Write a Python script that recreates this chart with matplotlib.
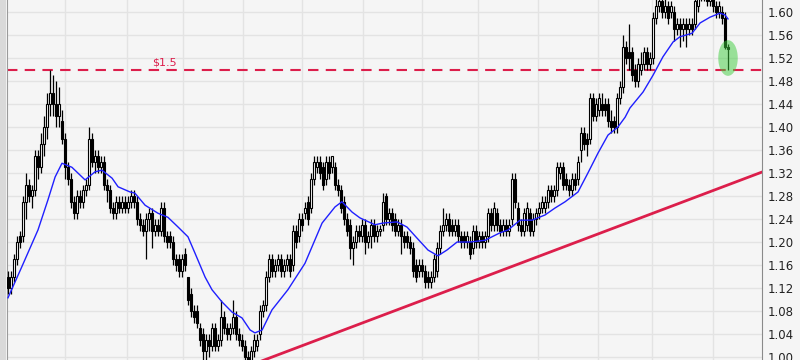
import numpy as np
import matplotlib
matplotlib.use('Agg')
import matplotlib.pyplot as plt
from matplotlib.patches import Ellipse, Rectangle

# 每日K线数据 (开/收/高/低)
opens = [
    1.14, 1.12, 1.14, 1.17, 1.21, 1.21, 1.27, 1.30, 1.28, 1.29,
    1.35, 1.33, 1.37, 1.40, 1.44, 1.46, 1.44, 1.42, 1.41, 1.38,
    1.33, 1.31, 1.27, 1.25, 1.28, 1.27, 1.29, 1.30, 1.38, 1.34,
    1.35, 1.33, 1.34, 1.30, 1.29, 1.26, 1.25, 1.27, 1.26, 1.27,
    1.26, 1.27, 1.28, 1.27, 1.24, 1.23, 1.22, 1.24, 1.25, 1.22,
    1.23, 1.22, 1.26, 1.21, 1.21, 1.20, 1.17, 1.17, 1.15, 1.18,
    1.14, 1.11, 1.08, 1.08, 1.05, 1.04, 1.01, 1.03, 1.02, 1.05,
    1.02, 1.03, 1.07, 1.05, 1.04, 1.05, 1.07, 1.04, 1.03, 1.02,
    1.00, 0.99, 1.01, 1.02, 1.04, 1.08, 1.09, 1.14, 1.17, 1.15,
    1.16, 1.17, 1.15, 1.16, 1.17, 1.16, 1.22, 1.21, 1.24, 1.25,
    1.27, 1.26, 1.31, 1.33, 1.34, 1.33, 1.31, 1.34, 1.33, 1.33,
    1.30, 1.29, 1.27, 1.24, 1.23, 1.19, 1.20, 1.22, 1.21, 1.23,
    1.20, 1.21, 1.23, 1.21, 1.22, 1.23, 1.28, 1.24, 1.25, 1.24,
    1.22, 1.23, 1.21, 1.21, 1.20, 1.19, 1.16, 1.15, 1.16, 1.15,
    1.14, 1.13, 1.14, 1.15, 1.19, 1.22, 1.23, 1.24, 1.23, 1.22,
    1.23, 1.21, 1.21, 1.20, 1.20, 1.19, 1.22, 1.20, 1.21, 1.20,
    1.21, 1.25, 1.23, 1.25, 1.23, 1.22, 1.23, 1.22, 1.24, 1.31,
    1.26, 1.23, 1.22, 1.23, 1.25, 1.22, 1.24, 1.25, 1.26, 1.26,
    1.27, 1.29, 1.28, 1.29, 1.32, 1.33, 1.31, 1.30, 1.29, 1.31,
    1.31, 1.36, 1.39, 1.38, 1.38, 1.45, 1.42, 1.43, 1.44, 1.44,
    1.44, 1.41, 1.41, 1.40, 1.45, 1.47, 1.54, 1.53, 1.53, 1.50,
    1.48, 1.50, 1.51, 1.53, 1.51, 1.52, 1.59, 1.61, 1.62, 1.60,
    1.61, 1.60, 1.60, 1.57, 1.58, 1.57, 1.58, 1.57, 1.58, 1.58,
    1.61, 1.63, 1.64, 1.63, 1.62, 1.63, 1.61, 1.60, 1.60, 1.59,
    1.54]
closes = [
    1.12, 1.14, 1.17, 1.20, 1.20, 1.27, 1.30, 1.28, 1.29, 1.35,
    1.33, 1.37, 1.40, 1.44, 1.46, 1.44, 1.42, 1.44, 1.38, 1.33,
    1.31, 1.27, 1.25, 1.28, 1.27, 1.29, 1.30, 1.38, 1.34, 1.35,
    1.33, 1.34, 1.30, 1.29, 1.26, 1.25, 1.27, 1.26, 1.27, 1.26,
    1.27, 1.28, 1.27, 1.24, 1.23, 1.22, 1.24, 1.25, 1.22, 1.23,
    1.22, 1.26, 1.21, 1.20, 1.20, 1.17, 1.16, 1.15, 1.17, 1.16,
    1.10, 1.08, 1.07, 1.06, 1.03, 1.01, 1.03, 1.02, 1.05, 1.02,
    1.03, 1.07, 1.05, 1.04, 1.05, 1.07, 1.04, 1.03, 1.02, 1.00,
    0.99, 1.01, 1.03, 1.03, 1.08, 1.09, 1.14, 1.17, 1.15, 1.16,
    1.17, 1.15, 1.16, 1.17, 1.15, 1.22, 1.20, 1.24, 1.23, 1.26,
    1.24, 1.31, 1.34, 1.34, 1.32, 1.30, 1.34, 1.32, 1.35, 1.30,
    1.29, 1.26, 1.24, 1.22, 1.19, 1.20, 1.22, 1.21, 1.23, 1.20,
    1.21, 1.23, 1.21, 1.22, 1.22, 1.27, 1.24, 1.25, 1.23, 1.22,
    1.23, 1.21, 1.20, 1.20, 1.19, 1.15, 1.14, 1.16, 1.15, 1.13,
    1.13, 1.14, 1.17, 1.19, 1.22, 1.23, 1.24, 1.22, 1.22, 1.23,
    1.21, 1.20, 1.20, 1.21, 1.18, 1.22, 1.20, 1.21, 1.20, 1.21,
    1.25, 1.23, 1.26, 1.23, 1.22, 1.23, 1.22, 1.23, 1.31, 1.27,
    1.23, 1.22, 1.25, 1.26, 1.22, 1.24, 1.25, 1.26, 1.27, 1.27,
    1.29, 1.28, 1.29, 1.33, 1.33, 1.30, 1.30, 1.29, 1.31, 1.30,
    1.34, 1.39, 1.37, 1.37, 1.45, 1.42, 1.44, 1.45, 1.43, 1.43,
    1.41, 1.40, 1.40, 1.45, 1.47, 1.54, 1.52, 1.52, 1.49, 1.48,
    1.51, 1.51, 1.53, 1.51, 1.52, 1.59, 1.61, 1.62, 1.60, 1.61,
    1.59, 1.61, 1.57, 1.58, 1.57, 1.58, 1.57, 1.58, 1.57, 1.62,
    1.63, 1.64, 1.63, 1.62, 1.63, 1.61, 1.60, 1.61, 1.59, 1.54,
    1.535]
highs = [
    1.15, 1.15, 1.18, 1.21, 1.22, 1.28, 1.32, 1.31, 1.30, 1.36,
    1.36, 1.39, 1.42, 1.46, 1.50, 1.49, 1.48, 1.47, 1.43, 1.39,
    1.34, 1.32, 1.28, 1.29, 1.29, 1.30, 1.31, 1.40, 1.39, 1.36,
    1.36, 1.35, 1.35, 1.31, 1.30, 1.27, 1.28, 1.28, 1.28, 1.28,
    1.28, 1.29, 1.29, 1.28, 1.25, 1.24, 1.25, 1.26, 1.26, 1.24,
    1.24, 1.27, 1.27, 1.22, 1.22, 1.21, 1.18, 1.18, 1.18, 1.19,
    1.14, 1.12, 1.09, 1.09, 1.06, 1.05, 1.04, 1.04, 1.06, 1.06,
    1.04, 1.10, 1.08, 1.06, 1.06, 1.10, 1.08, 1.05, 1.04, 1.03,
    1.01, 1.02, 1.04, 1.04, 1.09, 1.10, 1.15, 1.18, 1.18, 1.17,
    1.18, 1.18, 1.17, 1.18, 1.18, 1.23, 1.23, 1.25, 1.25, 1.27,
    1.28, 1.32, 1.35, 1.35, 1.35, 1.34, 1.35, 1.35, 1.35, 1.34,
    1.31, 1.30, 1.28, 1.25, 1.24, 1.21, 1.23, 1.23, 1.24, 1.24,
    1.22, 1.24, 1.24, 1.23, 1.23, 1.285, 1.285, 1.26, 1.26, 1.25,
    1.24, 1.24, 1.22, 1.22, 1.21, 1.20, 1.17, 1.17, 1.17, 1.16,
    1.15, 1.15, 1.18, 1.20, 1.23, 1.26, 1.25, 1.25, 1.24, 1.24,
    1.24, 1.22, 1.22, 1.22, 1.21, 1.23, 1.23, 1.22, 1.22, 1.22,
    1.26, 1.26, 1.27, 1.26, 1.24, 1.24, 1.24, 1.24, 1.32, 1.32,
    1.27, 1.24, 1.26, 1.27, 1.26, 1.25, 1.26, 1.27, 1.28, 1.28,
    1.30, 1.30, 1.30, 1.34, 1.34, 1.34, 1.32, 1.31, 1.32, 1.32,
    1.35, 1.40, 1.40, 1.39, 1.46, 1.46, 1.45, 1.46, 1.46, 1.45,
    1.45, 1.43, 1.42, 1.46, 1.48, 1.56, 1.55, 1.58, 1.54, 1.51,
    1.52, 1.53, 1.54, 1.54, 1.53, 1.60, 1.63, 1.64, 1.64, 1.63,
    1.62, 1.62, 1.61, 1.59, 1.59, 1.59, 1.59, 1.59, 1.59, 1.63,
    1.64, 1.65, 1.65, 1.64, 1.64, 1.64, 1.62, 1.62, 1.61, 1.60,
    1.545]
lows = [
    1.11, 1.11, 1.13, 1.16, 1.19, 1.20, 1.24, 1.27, 1.26, 1.28,
    1.31, 1.32, 1.35, 1.38, 1.42, 1.42, 1.40, 1.40, 1.37, 1.31,
    1.30, 1.26, 1.24, 1.24, 1.26, 1.26, 1.28, 1.29, 1.33, 1.32,
    1.32, 1.32, 1.29, 1.27, 1.25, 1.24, 1.24, 1.25, 1.25, 1.25,
    1.25, 1.26, 1.26, 1.23, 1.22, 1.21, 1.17, 1.22, 1.19, 1.21,
    1.21, 1.21, 1.20, 1.19, 1.19, 1.16, 1.15, 1.14, 1.14, 1.15,
    1.09, 1.07, 1.06, 1.05, 1.02, 0.99, 0.99, 1.00, 1.01, 1.01,
    1.01, 1.02, 1.04, 1.03, 1.03, 1.04, 1.03, 1.02, 1.01, 0.99,
    0.98, 0.98, 1.00, 1.01, 1.03, 1.07, 1.08, 1.13, 1.14, 1.14,
    1.15, 1.14, 1.14, 1.15, 1.14, 1.15, 1.19, 1.20, 1.22, 1.24,
    1.23, 1.25, 1.30, 1.32, 1.31, 1.29, 1.30, 1.31, 1.32, 1.29,
    1.28, 1.25, 1.23, 1.21, 1.17, 1.16, 1.19, 1.20, 1.20, 1.18,
    1.19, 1.19, 1.20, 1.20, 1.21, 1.22, 1.23, 1.23, 1.22, 1.21,
    1.21, 1.18, 1.19, 1.19, 1.18, 1.14, 1.13, 1.14, 1.14, 1.12,
    1.12, 1.12, 1.13, 1.14, 1.18, 1.21, 1.22, 1.21, 1.21, 1.21,
    1.20, 1.19, 1.19, 1.19, 1.17, 1.18, 1.19, 1.19, 1.19, 1.19,
    1.20, 1.22, 1.22, 1.22, 1.21, 1.21, 1.21, 1.21, 1.23, 1.26,
    1.22, 1.21, 1.21, 1.22, 1.21, 1.21, 1.23, 1.24, 1.25, 1.25,
    1.26, 1.27, 1.27, 1.28, 1.31, 1.29, 1.29, 1.28, 1.28, 1.29,
    1.30, 1.34, 1.36, 1.35, 1.37, 1.41, 1.41, 1.42, 1.42, 1.42,
    1.40, 1.39, 1.39, 1.39, 1.44, 1.46, 1.51, 1.50, 1.48, 1.47,
    1.47, 1.49, 1.50, 1.50, 1.50, 1.51, 1.58, 1.60, 1.59, 1.59,
    1.58, 1.59, 1.55, 1.56, 1.54, 1.55, 1.54, 1.56, 1.56, 1.57,
    1.60, 1.62, 1.62, 1.61, 1.61, 1.60, 1.59, 1.59, 1.58, 1.535,
    1.50]

# 移动均线 (读图取点)
ma_idx = [0, 4.7, 10, 13.3, 15.7, 18, 21.3, 25.7, 29, 31.3, 34.7, 36.7,
          40.7, 42.3, 45.7, 50, 53.3, 56.7, 60, 62.3, 65.7, 68, 71.3,
          74.7, 78, 80.7, 82.3, 84.7, 88, 93.3, 99, 104.7, 109, 111.3,
          114.7, 117.3, 122.3, 125, 129.7, 133, 136.3, 140, 143.3, 146.3,
          149.7, 154, 159, 164, 166.7, 170.7, 174.7, 179, 182.3, 185.7,
          190, 193.3, 196.7, 200, 203.3, 205.7, 207.3, 211.7, 215, 218.3,
          221.7, 224, 228, 230.7, 234, 237.3, 239, 240]
ma_val = [1.103, 1.158, 1.221, 1.273, 1.313, 1.337, 1.330, 1.308, 1.322,
          1.325, 1.311, 1.296, 1.287, 1.285, 1.264, 1.250, 1.243, 1.226,
          1.209, 1.181, 1.139, 1.117, 1.096, 1.078, 1.068, 1.047, 1.042,
          1.047, 1.082, 1.117, 1.163, 1.233, 1.261, 1.270, 1.252, 1.242,
          1.230, 1.233, 1.235, 1.226, 1.207, 1.186, 1.176, 1.186, 1.200,
          1.200, 1.203, 1.216, 1.221, 1.238, 1.238, 1.247, 1.259, 1.270,
          1.287, 1.320, 1.355, 1.386, 1.400, 1.417, 1.433, 1.461, 1.490,
          1.522, 1.548, 1.557, 1.563, 1.581, 1.591, 1.598, 1.595, 1.588]

# 月份分隔竖线位置 (K线序号)
vgrid_idx = [19, 39.67, 58.33, 78.33, 98, 118.33, 138, 156.67, 176.67,
             196.67, 214.67, 235]
yticks = [1.00, 1.04, 1.08, 1.12, 1.16, 1.20, 1.24, 1.28, 1.32, 1.36,
          1.40, 1.44, 1.48, 1.52, 1.56, 1.60]

# 支撑线、阻力线
level = 1.5
level_label = '$1.5'
trend_x = [84, 252]
trend_y = [0.992, 1.323]
highlight_idx = 240
highlight_val = 1.52

BG = '#f5f5f5'
RED = '#dc1e4b'

fig = plt.figure(figsize=(8, 3.6), dpi=100, facecolor=BG)
ax = fig.add_axes([7 / 800, 0, 755 / 800, 1])
ax.set_facecolor(BG)
# 左侧灰条
fig.patches.append(Rectangle((0, 0), 6 / 800, 1, transform=fig.transFigure,
                             facecolor='#d9d9d9', edgecolor='none'))

idx = np.arange(len(closes))
o = np.array(opens)
c = np.array(closes)
h = np.array(highs)
l = np.array(lows)

ax.vlines(idx, l, h, color='black', linewidth=0.9, zorder=3)
up = c >= o
bottom = np.minimum(o, c)
height = np.maximum(np.abs(c - o), 0.002)
ax.bar(idx[up], height[up], bottom=bottom[up], width=0.45,
       facecolor='white', edgecolor='black', linewidth=0.8, zorder=4)
ax.bar(idx[~up], height[~up], bottom=bottom[~up], width=0.45,
       facecolor='black', edgecolor='black', linewidth=0.8, zorder=4)

ax.plot(ma_idx, ma_val, color='#1f1fff', linewidth=1, zorder=5)

ax.axhline(level, color=RED, linewidth=1.5, linestyle=(0, (5, 3.5)), zorder=2)
ax.text(48, level + 0.003, level_label, color=RED, fontsize=8,
        ha='left', va='bottom', zorder=6)
ax.plot(trend_x, trend_y, color=RED, linewidth=2, zorder=2)

ax.add_patch(Ellipse((highlight_idx, highlight_val), 6.5, 0.062,
                     facecolor='#3ccc3c', alpha=0.5, edgecolor='none', zorder=7))

ax.set_xlim(-0.33, 251.33)
ax.set_ylim(0.9948, 1.6209)
ax.set_yticks(yticks)
ax.set_yticklabels(['%.2f' % v for v in yticks])
ax.yaxis.tick_right()
ax.tick_params(axis='y', length=0, pad=4, labelsize=8.5, labelcolor='#222222')
ax.set_xticks(vgrid_idx)
ax.tick_params(axis='x', length=0, labelbottom=False)
ax.grid(True, color='#e3e3e3', linewidth=1, zorder=0)
ax.set_axisbelow(True)

for side in ['top', 'bottom']:
    ax.spines[side].set_visible(False)
ax.spines['left'].set_color('#9a9a9a')
ax.spines['right'].set_color('#8a8a8a')

fig.savefig('out.png', dpi=100, facecolor=BG)
